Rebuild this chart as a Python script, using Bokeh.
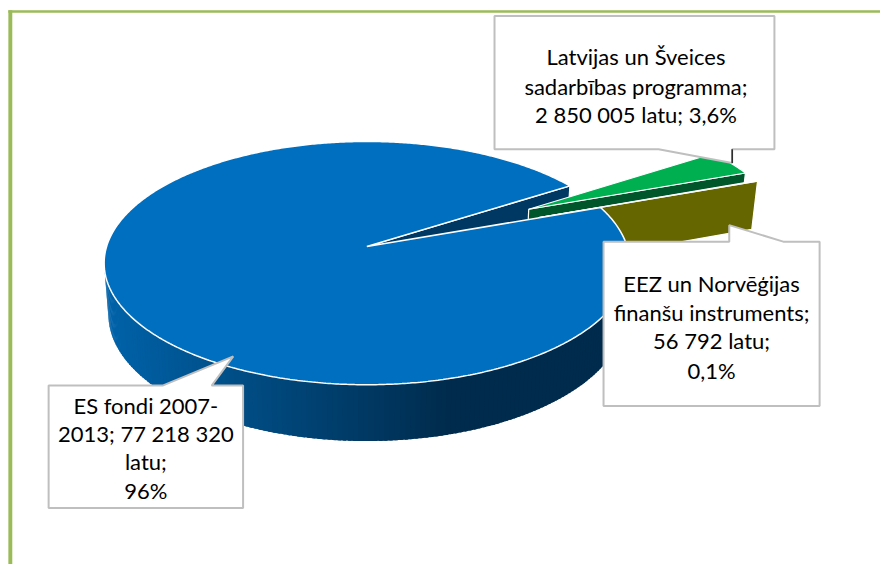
import numpy as np
from bokeh.plotting import figure
from bokeh.models import Range1d, ColumnDataSource
from bokeh.core.properties import value
from bokeh.embed import file_html
from bokeh.resources import INLINE

# ---------------- data ----------------
categories = ["ES fondi 2007-2013",
              "Latvijas un Šveices sadarbības programma",
              "EEZ un Norvēģijas finanšu instruments"]
amounts = [77218320, 2850005, 56792]
label_lines = [["ES fondi 2007-", "2013; 77 218 320", "latu;", "96%"],
               ["Latvijas un Šveices", "sadarbības programma;", "2 850 005 latu; 3,6%"],
               ["EEZ un Norvēģijas", "finanšu instruments;", "56 792 latu;", "0,1%"]]
exploded = [0.0, 0.727, 0.727]

# ---------------- style ----------------
top_colors = ["#006FBF", "#00B050", "#666600"]
wall_colors = ["#003864", "#00562B", "#666600"]
FONT = "Lato"
FS = "22px"

# ---------------- 3D projection ----------------
CX, CY = 373.0, 253.0
F, DIST = 1725.0, 6.51
ALPHA = np.radians(27.6)
SA, CA = np.sin(ALPHA), np.cos(ALPHA)
THICK = 0.227
START = 20.0  # degrees, first slice goes clockwise from here
CAM = np.array([0.0, -DIST * CA])


def proj(x, y, z):
    x = np.asarray(x, float); y = np.asarray(y, float); z = np.asarray(z, float)
    v = y * SA + z * CA
    w = DIST + y * CA - z * SA
    return CX + F * x / w, CY - F * v / w


total = float(sum(amounts))
spans = [a / total * 360.0 for a in amounts]

slices = []
hi = START
for i, sp in enumerate(spans):
    lo = hi - sp
    mid = np.radians((lo + hi) / 2)
    ox, oy = exploded[i] * np.cos(mid), exploded[i] * np.sin(mid)
    slices.append(dict(lo=lo, hi=hi, ox=ox, oy=oy, i=i))
    hi = lo

p = figure(width=880, height=564, x_range=Range1d(0, 896), y_range=Range1d(580, 0),
           output_backend="svg", toolbar_location=None, min_border=0)
p.axis.visible = False
p.grid.visible = False
p.outline_line_color = None
p.background_fill_color = "white"

# green frame
p.quad(left=8, right=896, top=10, bottom=12.5, fill_color="#9BBB59", line_color=None)
p.quad(left=8, right=12, top=10, bottom=580, fill_color="#9BBB59", line_color=None)


def radial_walls(s):
    out = []
    for ang, sign in ((s["lo"], -1), (s["hi"], 1)):
        t = np.radians(ang)
        n = np.array([-np.sin(t), np.cos(t)]) * sign
        if np.dot(n, CAM - np.array([s["ox"], s["oy"]])) > 0:
            xs = [s["ox"], s["ox"] + np.cos(t), s["ox"] + np.cos(t), s["ox"]]
            ys = [s["oy"], s["oy"] + np.sin(t), s["oy"] + np.sin(t), s["oy"]]
            zs = [0, 0, -THICK, -THICK]
            px, py = proj(xs, ys, zs)
            out.append((list(px), list(py)))
    return out


def top_face(s):
    t = np.radians(np.linspace(s["lo"], s["hi"], max(3, int((s["hi"] - s["lo"]) * 2))))
    xs = np.concatenate([[s["ox"]], s["ox"] + np.cos(t)])
    ys = np.concatenate([[s["oy"]], s["oy"] + np.sin(t)])
    px, py = proj(xs, ys, np.zeros_like(xs))
    return list(px), list(py)


def side_faces(s):
    xs_l, ys_l, cols = [], [], []
    n = max(2, int((s["hi"] - s["lo"]) * 1.0))
    t = np.radians(np.linspace(s["lo"], s["hi"], n))
    step = t[1] - t[0]
    for a in t[:-1]:
        b = a + step * 1.6  # overlap to hide seams
        m = a + step / 2
        P = np.array([s["ox"] + np.cos(m), s["oy"] + np.sin(m)])
        if np.dot([np.cos(m), np.sin(m)], CAM - P) <= 0:
            continue
        xs = [s["ox"] + np.cos(a), s["ox"] + np.cos(b), s["ox"] + np.cos(b), s["ox"] + np.cos(a)]
        ys = [s["oy"] + np.sin(a), s["oy"] + np.sin(b), s["oy"] + np.sin(b), s["oy"] + np.sin(a)]
        zs = [0, 0, -THICK, -THICK]
        px, py = proj(xs, ys, zs)
        xm = float(np.mean(px))
        f = min(1.0, max(0.0, (xm - 106) / (460 - 106)))
        base = np.array([0, 99, 170]) if s["i"] == 0 else np.array([0, 90, 40])
        dark = np.array([0, 43, 76]) if s["i"] == 0 else np.array([0, 60, 25])
        c = base + (dark - base) * f
        cols.append("#%02x%02x%02x" % tuple(int(round(v)) for v in c))
        xs_l.append(list(px)); ys_l.append(list(py))
    return xs_l, ys_l, cols


main = slices[0]
# back radial wall of the big slice
for wx, wy in radial_walls(main):
    p.patch(wx, wy, fill_color=wall_colors[0], line_color="white", line_width=1.2)

# exploded small slices
for s in slices[1:]:
    for wx, wy in radial_walls(s):
        p.patch(wx, wy, fill_color=wall_colors[s["i"]], line_color="white", line_width=1.2)
    sx, sy, sc = side_faces(s)
    if sx:
        p.patches(sx, sy, fill_color=sc, line_color=None)
    tx, ty = top_face(s)
    p.patch(tx, ty, fill_color=top_colors[s["i"]], line_color="white", line_width=1.2)

# big slice side and top
sx, sy, sc = side_faces(main)
p.patches(sx, sy, fill_color=sc, line_color=None)
tx, ty = top_face(main)
p.patch(tx, ty, fill_color=top_colors[0], line_color="white", line_width=1.5)

# ---------------- callouts ----------------
boxes = [
    [(49, 396), (165, 396), (237, 366), (215, 396), (247, 396), (247, 522), (49, 522)],
    [(503, 16), (788, 16), (788, 153), (745, 153), (745, 167), (670, 153), (503, 153)],
    [(614, 248), (742, 248), (742, 231), (797, 248), (834, 248), (834, 417), (614, 417)],
]
text_pos = [(148, [416, 445, 474, 504]), (647, [58, 88, 117]), (724, [291, 321, 350, 380])]

for b in boxes:
    p.patch([q[0] for q in b], [q[1] for q in b], fill_color="white",
            line_color="#BFBFBF", line_width=2)
p.line([745, 745], [153, 167], line_color="#262626", line_width=1.5)

tx_l, ty_l, tt_l = [], [], []
for (xc, ys), lines in zip(text_pos, label_lines):
    for yv, ln in zip(ys, lines):
        tx_l.append(xc); ty_l.append(yv); tt_l.append(ln)
src = ColumnDataSource(dict(x=tx_l, y=ty_l, t=tt_l))
p.text("x", "y", text="t", source=src, text_font=value(FONT), text_font_size=FS,
       text_align="center", text_baseline="middle", text_color="black")

open("out.html", "w").write(file_html(p, INLINE))
